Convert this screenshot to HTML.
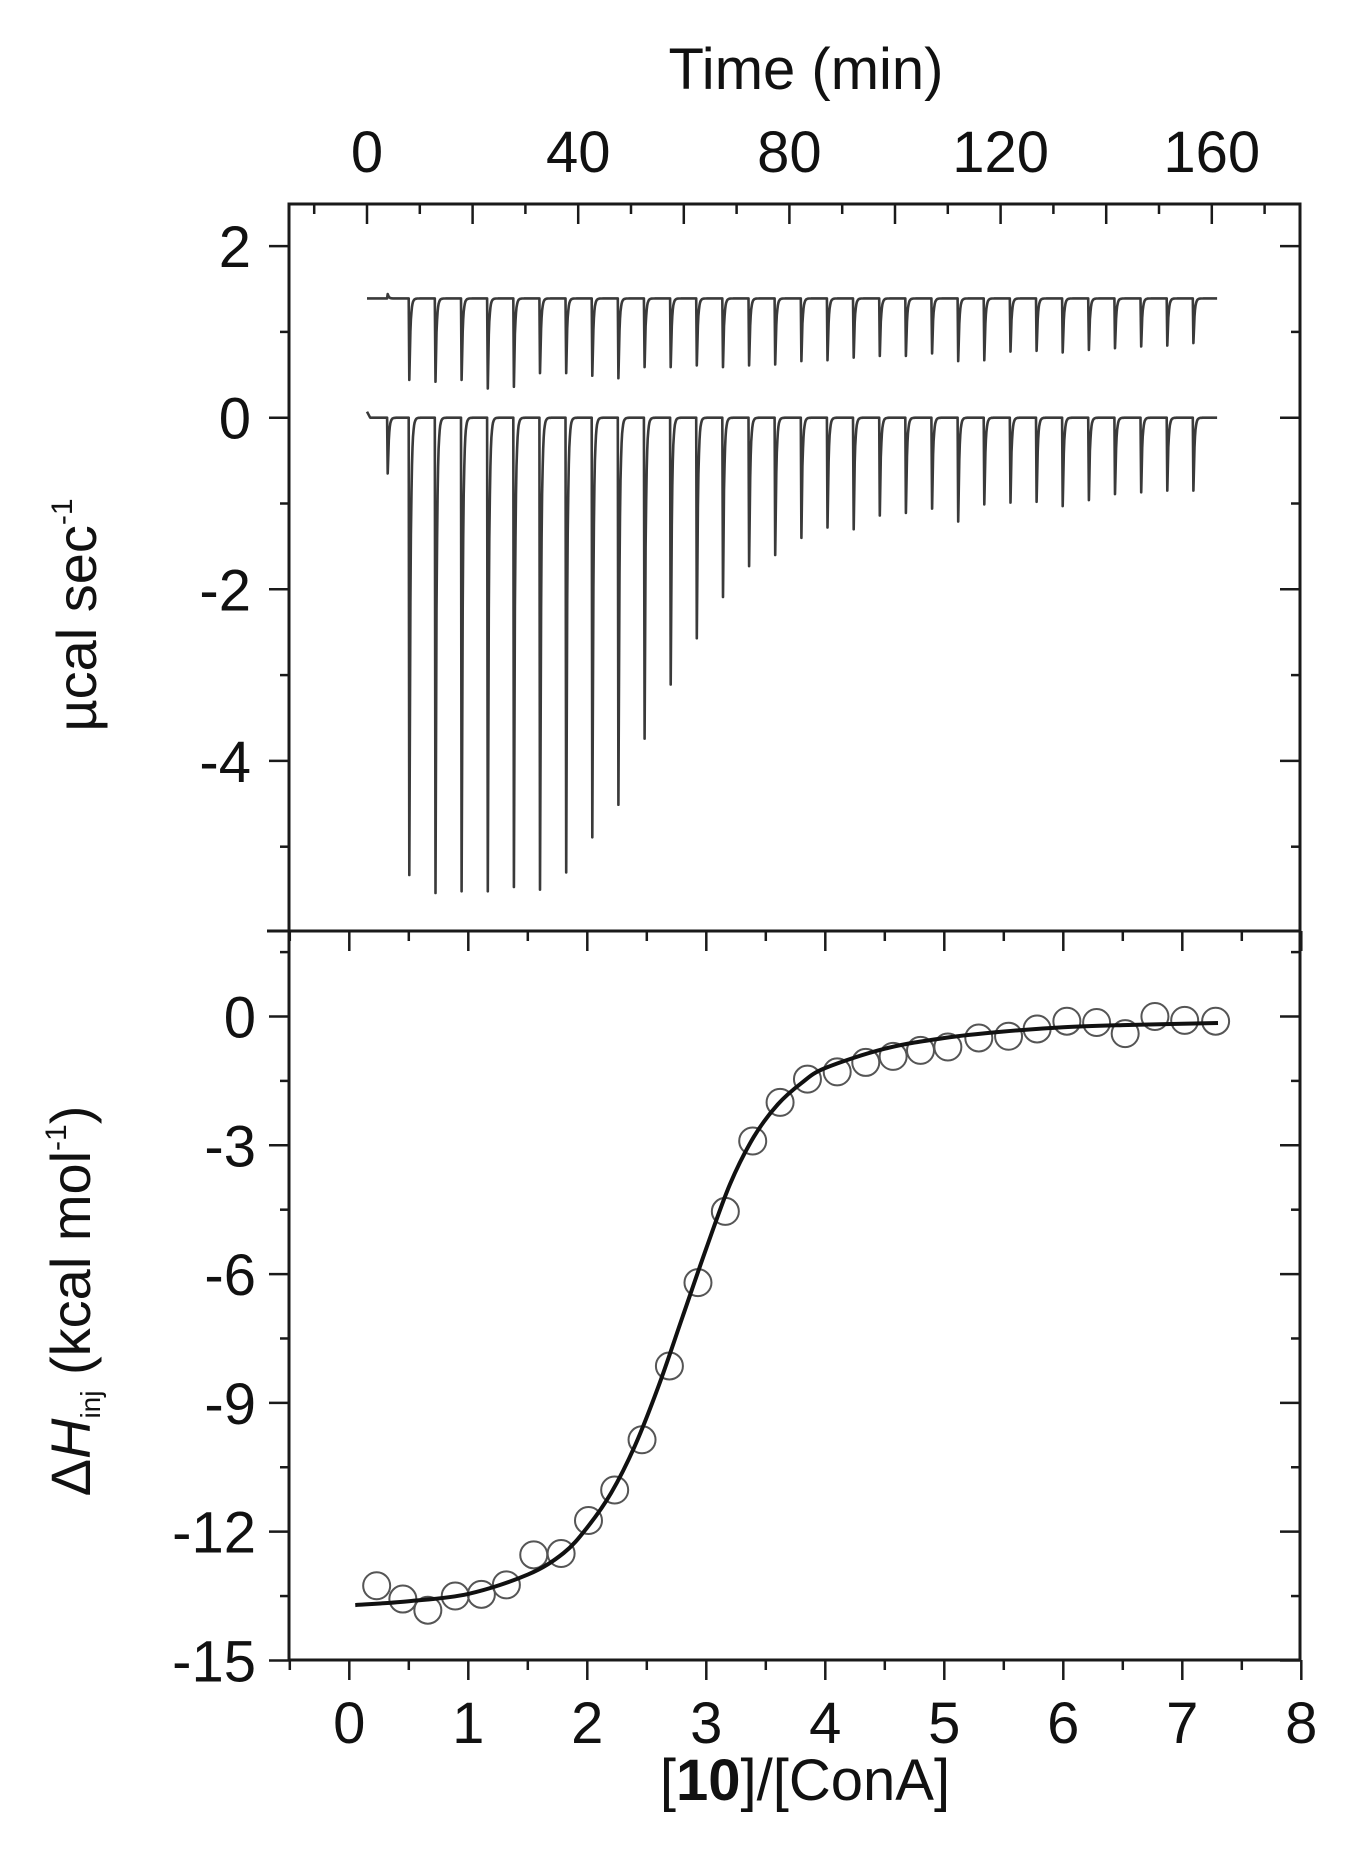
<!DOCTYPE html>
<html><head><meta charset="utf-8"><style>
html,body{margin:0;padding:0;background:#fff;}
svg{display:block;font-family:"Liberation Sans",Arial,sans-serif;}
</style></head><body>
<svg id="chart" width="1349" height="1861" viewBox="0 0 1349 1861" xmlns="http://www.w3.org/2000/svg">
<g id="topPanel"></g>
<g id="botPanel"></g>
<text x="806" y="89" font-size="58" text-anchor="middle" fill="#111">Time (min)</text>
<text transform="translate(96,615) rotate(-90)" font-size="56" text-anchor="middle" fill="#111">µcal sec<tspan font-size="30" dy="-24">-1</tspan></text>
<text transform="translate(90,1301) rotate(-90)" font-size="56" text-anchor="middle" fill="#111">Δ<tspan font-style="italic">H</tspan><tspan font-size="28" dy="10">inj</tspan><tspan dy="-10"> (kcal mol</tspan><tspan font-size="30" dy="-24">-1</tspan><tspan dy="24">)</tspan></text>
<text x="805" y="1800" font-size="58" text-anchor="middle" fill="#111">[<tspan font-weight="bold">10</tspan>]/[ConA]</text>
</svg>
<script>
// ---- data ----
const injTimesFirst = 3.8;
const injStart = 7.9;
const injInterval = 4.95;
const topBaseline = 1.39;
const bottomBaseline = 0;
const topFirstDepth = 0.05;
const bottomFirstDepth = -0.65;
const topDepths = [0.95,0.97,0.95,1.05,1.03,0.87,0.87,0.9,0.93,0.8,0.8,0.78,0.8,0.78,0.77,0.73,0.72,0.69,0.67,0.67,0.64,0.73,0.72,0.62,0.61,0.63,0.60,0.58,0.56,0.55,0.52];
const bottomDepths = [-5.33,-5.54,-5.52,-5.52,-5.47,-5.5,-5.3,-4.89,-4.51,-3.74,-3.11,-2.57,-2.09,-1.73,-1.6,-1.40,-1.28,-1.30,-1.14,-1.11,-1.06,-1.21,-1.01,-0.99,-0.98,-1.03,-0.96,-0.89,-0.87,-0.85,-0.85];
const ratioX = [0.23,0.45,0.66,0.89,1.11,1.32,1.55,1.78,2.01,2.23,2.46,2.69,2.93,3.16,3.39,3.62,3.85,4.1,4.34,4.57,4.8,5.03,5.29,5.54,5.78,6.03,6.28,6.52,6.77,7.02,7.28];
const deltaH = [-13.26,-13.57,-13.83,-13.5,-13.46,-13.24,-12.54,-12.51,-11.74,-11.03,-9.86,-8.14,-6.2,-4.54,-2.9,-2.0,-1.46,-1.29,-1.07,-0.93,-0.79,-0.71,-0.5,-0.46,-0.29,-0.11,-0.14,-0.4,0,-0.09,-0.11];
const fitX = [0.05,0.5,1.0,1.5,1.8,2.0,2.2,2.4,2.6,2.8,3.0,3.2,3.4,3.6,3.8,4.0,4.5,5.0,5.5,6.0,6.5,7.0,7.3];
const fitY = [-13.71,-13.62,-13.45,-13.0,-12.5,-11.9,-11.1,-10.0,-8.6,-7.0,-5.4,-3.9,-2.8,-2.05,-1.55,-1.2,-0.75,-0.5,-0.35,-0.25,-0.2,-0.17,-0.15];
const timeTicks = [0,40,80,120,160];
const topYTicks = [2,0,-2,-4];
const botXTicks = [0,1,2,3,4,5,6,7,8];
const botYTicks = [0,-3,-6,-9,-12,-15];

// ---- geometry ----
const L=289, R=1300, T=204, M=931, B=1660;
const tx = t => 367 + t*5.28;
const ty = v => 417.7 - v*85.8;
const bx = v => 349.3 + v*119;
const by = v => 1016.5 - v*42.93;
const NS='http://www.w3.org/2000/svg';
function el(tag, attrs, parent){const e=document.createElementNS(NS,tag);for(const k in attrs)e.setAttribute(k,attrs[k]);parent.appendChild(e);return e;}
const topG=document.getElementById('topPanel'), botG=document.getElementById('botPanel');
const ink='#1a1a1a';

let f=el('rect',{x:L,y:T,width:R-L,height:B-T,fill:'none',stroke:ink,'stroke-width':3},topG);


let mid=el('line',{x1:L-22,x2:R,y1:M,y2:M,stroke:ink,'stroke-width':3},topG);



for(let t=-10;t<=170;t+=10){const x=tx(t);if(x<L||x>R)continue;const len=(t%20===0)?20:10;
 const k=el('line',{x1:x,x2:x,y1:T,y2:T+len,stroke:ink,'stroke-width':2.5},topG);
 
 }
timeTicks.forEach(t=>{const s=el('text',{x:tx(t),y:172,'font-size':58,'text-anchor':'middle',fill:'#111'},topG);s.textContent=t;
 
 });
for(let v=-5;v<=2;v++){const y=ty(v);const major=(v%2===0);
 const a=el('line',{x1:L-(major?20:9),x2:L,y1:y,y2:y,stroke:ink,'stroke-width':2.5},topG);
 
 
 const b=el('line',{x1:R,x2:R-(major?20:9),y1:y,y2:y,stroke:ink,'stroke-width':2.5},topG);
 
 }
topYTicks.forEach(v=>{const s=el('text',{x:251,y:ty(v)+21,'font-size':58,'text-anchor':'end',fill:'#111'},topG);s.textContent=v;
 
 });

function trace(base, firstDepth, depths, name){
 const times=[injTimesFirst];const ds=[firstDepth];
 depths.forEach((d,i)=>{times.push(injStart+i*injInterval);ds.push(name==='top-trace'?-d:d);});
 let p='M'+tx(0).toFixed(1)+','+ty(base+ (name==='bottom-trace'?0.07:0)).toFixed(1)+' L'+tx(0.6).toFixed(1)+','+ty(base).toFixed(1);
 times.forEach((t,i)=>{const d=ds[i];
  p+=' L'+tx(t).toFixed(1)+','+ty(base).toFixed(1);
  p+=' L'+tx(t+0.12).toFixed(1)+','+ty(base+d).toFixed(1);
  for(let s=0.2;s<=2.4;s+=0.1){p+=' L'+tx(t+0.12+s).toFixed(1)+','+ty(base+d*Math.exp(-s/0.22)).toFixed(1);}
 });
 p+=' L'+tx(161).toFixed(1)+','+ty(base).toFixed(1);
 const path=el('path',{d:p,fill:'none',stroke:'#3a3a3a','stroke-width':2.6,'stroke-linejoin':'round'},topG);
 
 
}
trace(topBaseline, topFirstDepth, topDepths, 'top-trace');
trace(bottomBaseline, bottomFirstDepth, bottomDepths, 'bottom-trace');

for(let v=-0.5;v<=8.01;v+=0.5){const x=bx(v);const major=Math.abs(v-Math.round(v))<0.01;
 const a=el('line',{x1:x,x2:x,y1:B,y2:B+(major?20:10),stroke:ink,'stroke-width':2.5},botG);
 
 
 const b=el('line',{x1:x,x2:x,y1:M,y2:M+(major?20:10),stroke:ink,'stroke-width':2.5},botG);
 
 }
botXTicks.forEach(v=>{const s=el('text',{x:bx(v),y:1743,'font-size':58,'text-anchor':'middle',fill:'#111'},botG);s.textContent=v;
 
 });
for(let v=1.5;v>=-15;v-=1.5){const y=by(v);const major=Math.abs(v%3)<0.01;
 const a=el('line',{x1:L-(major?20:9),x2:L,y1:y,y2:y,stroke:ink,'stroke-width':2.5},botG);
 
 
 const b=el('line',{x1:R,x2:R-(major?20:9),y1:y,y2:y,stroke:ink,'stroke-width':2.5},botG);
 
 }
botYTicks.forEach(v=>{const s=el('text',{x:256,y:by(v)+21,'font-size':58,'text-anchor':'end',fill:'#111'},botG);s.textContent=v;
 
 });

ratioX.forEach((x,i)=>{const c=el('circle',{cx:bx(x),cy:by(deltaH[i]),r:13.5,fill:'none',stroke:'#555','stroke-width':2},botG);
 
 });
const P=fitX.map((x,i)=>[bx(x),by(fitY[i])]);
let d='M'+P[0][0]+','+P[0][1];
for(let i=0;i<P.length-1;i++){const p0=P[Math.max(0,i-1)],p1=P[i],p2=P[i+1],p3=P[Math.min(P.length-1,i+2)];
 d+=' C'+(p1[0]+(p2[0]-p0[0])/6)+','+(p1[1]+(p2[1]-p0[1])/6)+' '+(p2[0]-(p3[0]-p1[0])/6)+','+(p2[1]-(p3[1]-p1[1])/6)+' '+p2[0]+','+p2[1];}
const fit=el('path',{d:d,fill:'none',stroke:'#111','stroke-width':4},botG);


</script>
</body></html>
